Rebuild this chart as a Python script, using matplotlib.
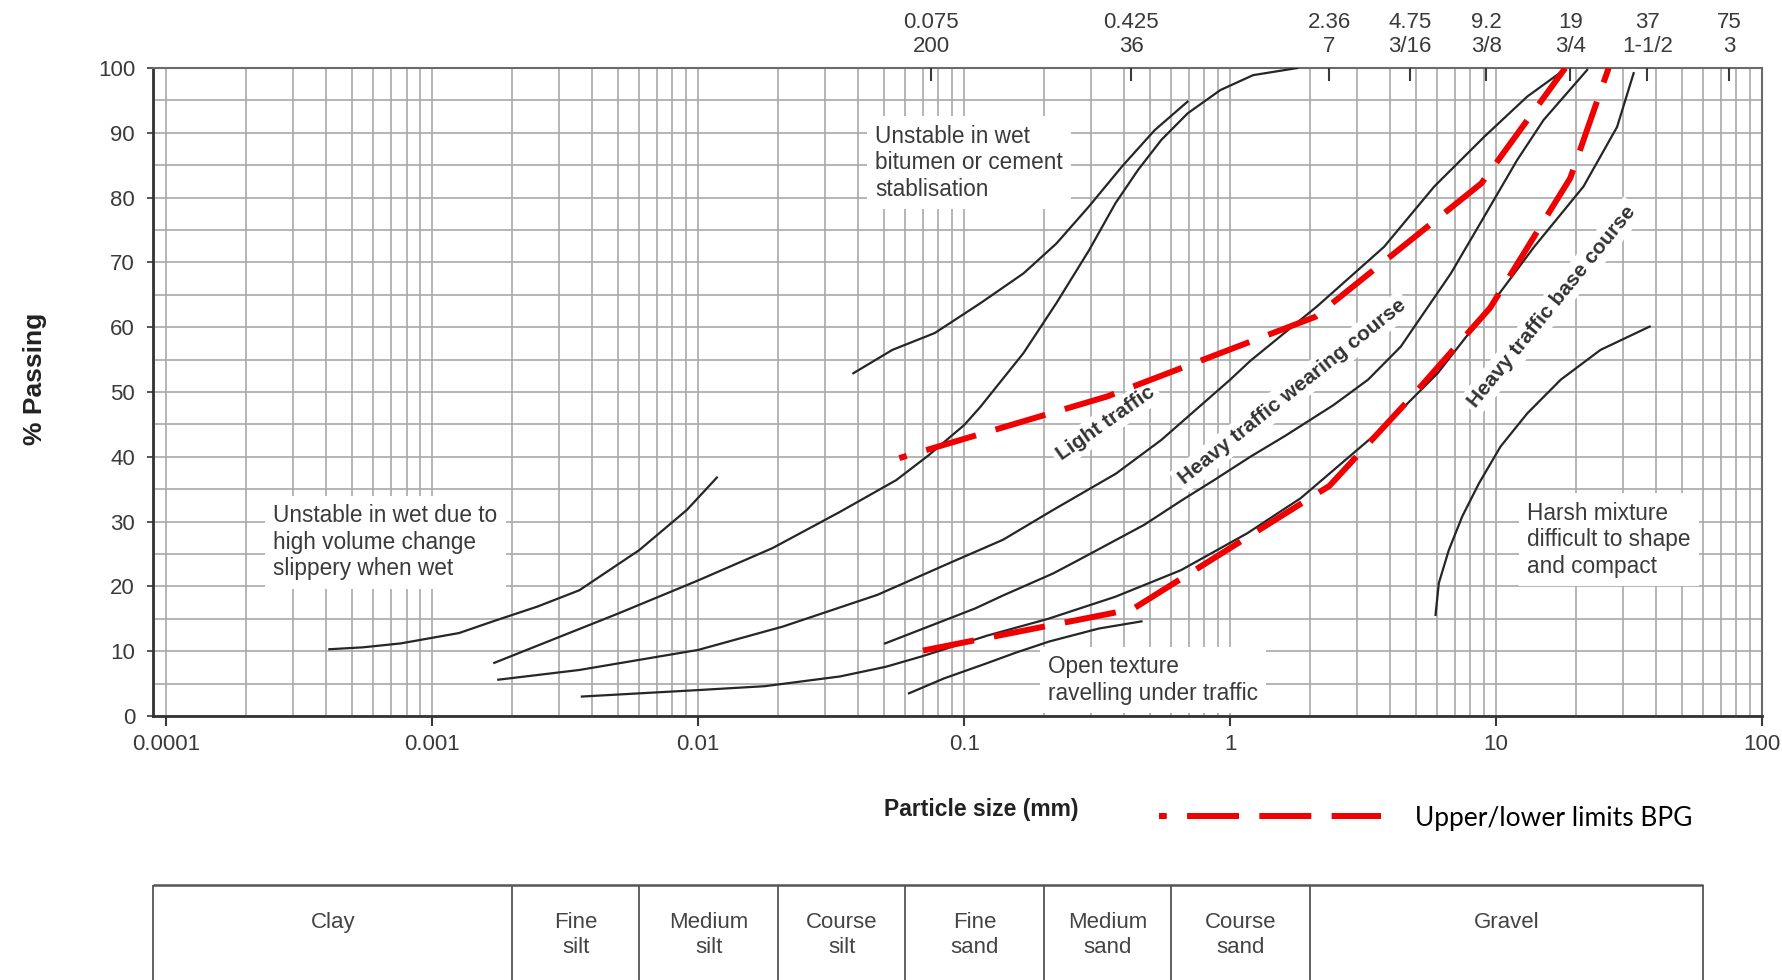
import matplotlib.pyplot as plt
from matplotlib.ticker import LogLocator, MultipleLocator, NullFormatter, NullLocator

plt.rcParams['font.family'] = ['Liberation Sans', 'DejaVu Sans']

# particle size (mm) and % passing
wet_clay_size = [4.1e-4, 5.5e-4, 7.6e-4, 1.26e-3, 1.69e-3, 2.49e-3, 3.57e-3, 6.0e-3, 9.06e-3, 1.175e-2]
wet_clay_pass = [10.3, 10.6, 11.2, 12.8, 14.6, 16.9, 19.4, 25.6, 31.8, 36.8]

light_upper_size = [1.71e-3, 4.99e-3, 9.96e-3, 0.019, 0.0341, 0.0555, 0.0733, 0.1, 0.115, 0.167,
                    0.222, 0.295, 0.37, 0.451, 0.551, 0.692, 0.919, 1.22, 1.79]
light_upper_pass = [8.2, 15.8, 20.9, 25.9, 31.5, 36.4, 40.2, 44.9, 47.7, 56.0,
                    63.7, 71.9, 79.1, 84.3, 88.9, 93.0, 96.6, 98.9, 100.0]

stabilise_size = [0.0383, 0.0537, 0.0775, 0.115, 0.167, 0.222, 0.294, 0.392, 0.52, 0.691]
stabilise_pass = [52.9, 56.5, 59.1, 63.7, 68.3, 72.9, 78.6, 84.8, 90.4, 94.8]

light_lower_size = [1.77e-3, 3.57e-3, 0.01, 0.0208, 0.0472, 0.0903, 0.14, 0.216, 0.372, 0.551,
                    1.0, 1.19, 2.12, 3.79, 5.85, 9.03, 13.1, 18.0]
light_lower_pass = [5.6, 7.1, 10.2, 13.8, 18.7, 23.8, 27.2, 31.8, 37.4, 42.6,
                    51.9, 54.8, 63.2, 72.4, 81.7, 89.4, 95.6, 99.7]

wearing_lower_size = [0.0504, 0.11, 0.14, 0.216, 0.27, 0.475, 0.653, 0.87, 1.19, 1.62,
                      2.45, 3.3, 4.38, 6.76, 9.03, 12.0, 15.1, 22.0]
wearing_lower_pass = [11.2, 16.6, 18.6, 22.0, 24.1, 29.5, 33.2, 36.4, 40.0, 43.3,
                      48.0, 51.9, 57.0, 68.3, 77.1, 85.8, 92.0, 99.7]

base_lower_size = [3.65e-3, 0.01, 0.0178, 0.0341, 0.0508, 0.0693, 0.122, 0.207, 0.37, 0.653,
                   1.16, 1.84, 3.79, 6.03, 9.03, 13.9, 21.3, 28.5, 32.9]
base_lower_pass = [3.0, 4.0, 4.6, 6.1, 7.6, 9.2, 12.4, 15.0, 18.4, 22.5,
                   28.2, 33.6, 44.6, 52.9, 62.1, 72.4, 81.7, 90.9, 99.2]

open_size = [0.062, 0.084, 0.119, 0.157, 0.209, 0.321, 0.464]
open_pass = [3.5, 5.8, 8.0, 9.8, 11.5, 13.5, 14.6]

harsh_size = [5.92, 6.09, 6.64, 7.46, 8.62, 10.4, 13.1, 17.5, 24.7, 37.8]
harsh_pass = [15.6, 20.5, 25.6, 30.8, 35.9, 41.6, 46.7, 51.9, 56.5, 60.1]

bpg_upper_size = [0.057, 0.344, 2.09, 8.8, 18.2]
bpg_upper_pass = [39.8, 49.3, 61.6, 82.2, 100.0]
bpg_lower_size = [0.07, 0.43, 2.36, 4.75, 9.5, 19.0, 26.5]
bpg_lower_pass = [10.1, 16.5, 35.5, 49.0, 63.0, 83.0, 100.0]

size_ticks = [1e-4, 1e-3, 1e-2, 1e-1, 1, 10, 100]
size_labels = ["0.0001", "0.001", "0.01", "0.1", "1", "10", "100"]
sieve_mm = [0.075, 0.425, 2.36, 4.75, 9.2, 19, 37, 75]
sieve_no = ["200", "36", "7", "3/16", "3/8", "3/4", "1-1/2", "3"]

soil_names = ["Clay", "Fine\nsilt", "Medium\nsilt", "Course\nsilt", "Fine\nsand",
              "Medium\nsand", "Course\nsand", "Gravel"]
soil_bounds = [10 ** -4.05, 0.002, 0.006, 0.02, 0.06, 0.2, 0.6, 2, 60]

grey_txt = '#3a3a3a'
grid_col = '#a9a9a9'

fig = plt.figure(figsize=(17.82, 9.8), dpi=100)
ax = fig.add_axes([0.0859, 0.2694, 0.9029, 0.6612])
ax.set_xscale('log')
ax.set_xlim(10 ** -4.05, 100)
ax.set_ylim(0, 100)

ax.set_xticks(size_ticks, labels=size_labels)
ax.xaxis.set_minor_locator(LogLocator(base=10, subs=range(2, 10), numticks=100))
ax.xaxis.set_minor_formatter(NullFormatter())
ax.set_yticks(range(0, 101, 10))
ax.yaxis.set_minor_locator(MultipleLocator(5))
ax.grid(which='both', color=grid_col, lw=1.2)
ax.set_axisbelow(True)

ax.tick_params(axis='x', which='major', direction='out', length=7, width=1.5,
               pad=6, labelsize=16, colors=grey_txt)
ax.tick_params(axis='y', which='major', direction='out', length=4, width=1.2,
               pad=9, labelsize=16, colors=grey_txt)
ax.tick_params(which='minor', length=0)

for side in ['left', 'bottom']:
    ax.spines[side].set_color('#333333')
    ax.spines[side].set_linewidth(2)
for side in ['top', 'right']:
    ax.spines[side].set_color('#6a6a6a')
    ax.spines[side].set_linewidth(1.5)

# sieve sizes / numbers along the top
top = ax.twiny()
top.set_xscale('log')
top.set_xlim(ax.get_xlim())
top.set_xticks(sieve_mm, labels=[f"{mm}\n{no}" for mm, no in zip(sieve_mm, sieve_no)])
top.xaxis.set_minor_locator(NullLocator())
top.tick_params(direction='in', length=9, width=1.5, pad=8, labelsize=16,
                colors=grey_txt)
for s in top.spines.values():
    s.set_visible(False)

ax.set_ylabel("% Passing", fontsize=19, fontweight='bold', color='#222222')
ax.yaxis.set_label_coords(-0.066, 0.52)
ax.set_xlabel("Particle size (mm)", fontsize=16.5, fontweight='bold', color='#222222')
ax.xaxis.set_label_coords(0.515, -0.127)

curves = [
    (wet_clay_size, wet_clay_pass),
    (light_upper_size, light_upper_pass),
    (stabilise_size, stabilise_pass),
    (light_lower_size, light_lower_pass),
    (wearing_lower_size, wearing_lower_pass),
    (base_lower_size, base_lower_pass),
    (open_size, open_pass),
    (harsh_size, harsh_pass),
]
for size, passing in curves:
    ax.plot(size, passing, color='#262626', lw=1.6, zorder=4)

upper, = ax.plot(bpg_upper_size, bpg_upper_pass, color='#f00000', lw=4.3,
                 ls=(7.4, (8.7, 3.4)), zorder=5)
ax.plot(bpg_lower_size, bpg_lower_pass, color='#f00000', lw=4.3,
        ls=(0, (8.7, 3.4)), zorder=5)

box = dict(facecolor='white', edgecolor='none', pad=6)
note_kw = dict(transform=ax.transAxes, fontsize=16.3, color=grey_txt, va='center',
               ha='left', linespacing=1.2, bbox=box, zorder=3)
ax.text(0.0746, 0.268, "Unstable in wet due to\nhigh volume change\nslippery when wet", **note_kw)
ax.text(0.4487, 0.854, "Unstable in wet\nbitumen or cement\nstablisation", **note_kw)
ax.text(0.8539, 0.272, "Harsh mixture\ndifficult to shape\nand compact", **note_kw)
ax.text(0.5562, 0.056, "Open texture\nravelling under traffic", **note_kw)

zone_kw = dict(transform=ax.transAxes, fontsize=15, fontweight='bold', color='#333333',
               ha='center', va='center', rotation_mode='anchor',
               bbox=dict(facecolor='white', edgecolor='none', pad=3), zorder=3)
ax.text(0.592, 0.452, "Light traffic", rotation=35, **zone_kw)
ax.text(0.7079, 0.500, "Heavy traffic wearing course", rotation=38.6, **zone_kw)
ax.text(0.8693, 0.632, "Heavy traffic base course", rotation=50.8, **zone_kw)

fig.legend(handles=[upper], labels=["Upper/lower limits BPG"], loc='center left',
           bbox_to_anchor=(1159 / 1782, 1 - 818 / 980), frameon=False,
           handlelength=8.4, handletextpad=1.3, borderpad=0, borderaxespad=0,
           prop={'family': ['Lato', 'DejaVu Sans'], 'size': 19})

# soil classification strip under the chart
tab = fig.add_axes([0.0859, 0.0, 0.9029, 0.098])
tab.set_xscale('log')
tab.set_xlim(ax.get_xlim())
tab.set_ylim(0, 96)
tab.axis('off')
tab.vlines(soil_bounds, 0, 95, color='#555555', lw=1.3, clip_on=False)
tab.hlines(95, soil_bounds[0], soil_bounds[-1], color='#555555', lw=1.8, clip_on=False)
for name, lo, hi in zip(soil_names, soil_bounds[:-1], soil_bounds[1:]):
    y = 45 if "\n" in name else 57
    tab.text((lo * hi) ** 0.5, y, name, ha='center', va='center', fontsize=16,
             color='#444444', linespacing=1.22)

fig.savefig("out.png", dpi=100)
